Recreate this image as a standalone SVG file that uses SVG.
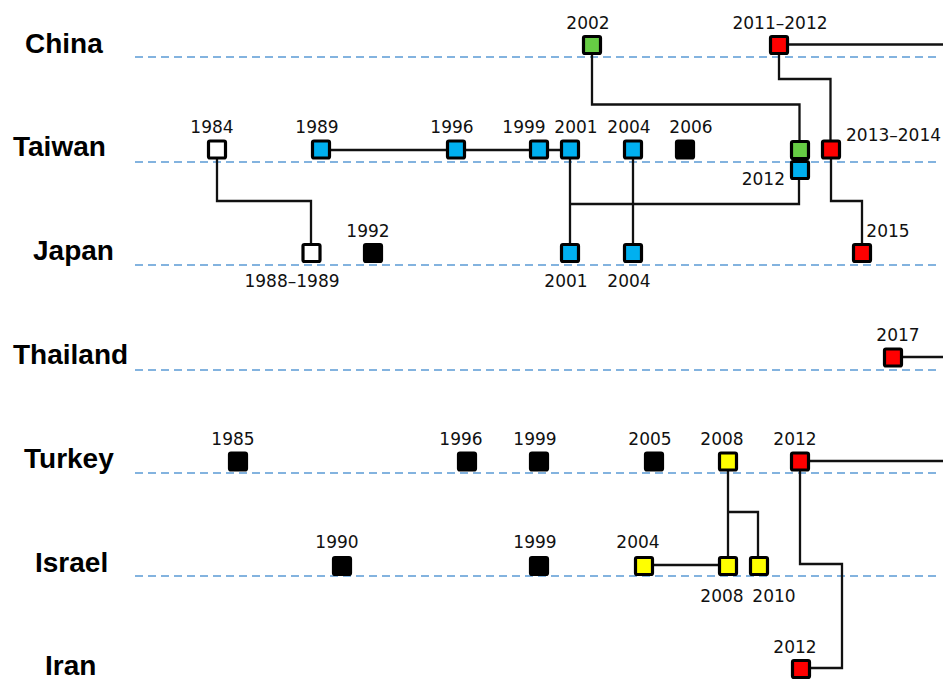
<svg xmlns="http://www.w3.org/2000/svg" width="943" height="680" viewBox="0 0 943 680">
<style>
.country{font-family:"Liberation Sans",Arial,sans-serif;font-weight:bold;font-size:28px;fill:#000}
.yr{font-family:"DejaVu Sans",Verdana,sans-serif;font-size:17px;fill:#111;text-anchor:middle}
.lane{stroke:#5B9BD5;stroke-width:1.5;stroke-dasharray:8 5;fill:none}
.conn{stroke:#111;stroke-width:2.3;fill:none}
.box{stroke:#000;stroke-width:3.2}
.blue{fill:#00B0F0}.green{fill:#66CC44}.red{fill:#FF0000}.yellow{fill:#FFFF00}.black{fill:#000}.white{fill:#FFF}
</style>
<rect width="943" height="680" fill="#fff"/>
<g id="lanes">
<line class="lane" x1="135" y1="57" x2="940" y2="57"/>
<line class="lane" x1="135" y1="162" x2="940" y2="162"/>
<line class="lane" x1="135" y1="265" x2="940" y2="265"/>
<line class="lane" x1="135" y1="370" x2="940" y2="370"/>
<line class="lane" x1="135" y1="473" x2="940" y2="473"/>
<line class="lane" x1="135" y1="576" x2="940" y2="576"/>
</g>
<g id="countries">
<text class="country" x="25" y="53">China</text>
<text class="country" x="13" y="156">Taiwan</text>
<text class="country" x="33" y="260">Japan</text>
<text class="country" x="13" y="364">Thailand</text>
<text class="country" x="24" y="468">Turkey</text>
<text class="country" x="35" y="572">Israel</text>
<text class="country" x="45" y="675">Iran</text>
</g>
<g id="connectors">
<path class="conn" d="M592 45V104.5H799.5V149"/>
<path class="conn" d="M779 45V79H830.5V149"/>
<path class="conn" d="M779 44.5H943"/>
<path class="conn" d="M831 149V201H862V253"/>
<path class="conn" d="M321 150H570"/>
<path class="conn" d="M570 149V253"/>
<path class="conn" d="M633 149V253"/>
<path class="conn" d="M570 204H799V170"/>
<path class="conn" d="M217 149V201H311V253"/>
<path class="conn" d="M893 357H943"/>
<path class="conn" d="M800 461H943"/>
<path class="conn" d="M728 461V566"/>
<path class="conn" d="M728 512H758V566"/>
<path class="conn" d="M644 565H728"/>
<path class="conn" d="M800 461V564H842V668H801"/>
</g>
<g id="china-2002"><rect class="box green" x="583.5" y="36.5" width="17" height="17" rx="1.5"/><text class="yr" x="588" y="29">2002</text></g>
<g id="china-2011"><rect class="box red" x="770.5" y="36.5" width="17" height="17" rx="1.5"/><text class="yr" x="780" y="29">2011–2012</text></g>
<g id="taiwan-1984"><rect class="box white" x="208.5" y="141" width="17" height="17" rx="1.5"/><text class="yr" x="212" y="133">1984</text></g>
<g id="taiwan-1989"><rect class="box blue" x="312.5" y="141" width="17" height="17" rx="1.5"/><text class="yr" x="317" y="133">1989</text></g>
<g id="taiwan-1996"><rect class="box blue" x="447.5" y="141" width="17" height="17" rx="1.5"/><text class="yr" x="452" y="133">1996</text></g>
<g id="taiwan-1999"><rect class="box blue" x="530.5" y="141" width="17" height="17" rx="1.5"/><text class="yr" x="524" y="133">1999</text></g>
<g id="taiwan-2001"><rect class="box blue" x="561.5" y="141" width="17" height="17" rx="1.5"/><text class="yr" x="576" y="133">2001</text></g>
<g id="taiwan-2004"><rect class="box blue" x="624.5" y="141" width="17" height="17" rx="1.5"/><text class="yr" x="629" y="133">2004</text></g>
<g id="taiwan-2006"><rect class="box black" x="676.5" y="141" width="17" height="17" rx="1.5"/><text class="yr" x="691" y="133">2006</text></g>
<g id="taiwan-2012g"><rect class="box green" x="791.5" y="141.5" width="17" height="17" rx="1.5"/></g>
<g id="taiwan-2012b"><rect class="box blue" x="791.5" y="161.5" width="17" height="17" rx="1.5"/><text class="yr" x="785" y="185" style="text-anchor:end">2012</text></g>
<g id="taiwan-2013"><rect class="box red" x="822.5" y="141" width="17" height="17" rx="1.5"/><text class="yr" x="846" y="141" style="text-anchor:start">2013–2014</text></g>
<g id="japan-1988"><rect class="box white" x="303" y="244.5" width="17" height="17" rx="1.5"/><text class="yr" x="292" y="287">1988–1989</text></g>
<g id="japan-1992"><rect class="box black" x="364.5" y="244.5" width="17" height="17" rx="1.5"/><text class="yr" x="368" y="237">1992</text></g>
<g id="japan-2001"><rect class="box blue" x="561.5" y="244.5" width="17" height="17" rx="1.5"/><text class="yr" x="566" y="287">2001</text></g>
<g id="japan-2004"><rect class="box blue" x="624.5" y="244.5" width="17" height="17" rx="1.5"/><text class="yr" x="629" y="287">2004</text></g>
<g id="japan-2015"><rect class="box red" x="853.5" y="244.5" width="17" height="17" rx="1.5"/><text class="yr" x="888" y="237">2015</text></g>
<g id="thailand-2017"><rect class="box red" x="884.5" y="349" width="17" height="17" rx="1.5"/><text class="yr" x="898" y="341">2017</text></g>
<g id="turkey-1985"><rect class="box black" x="229.5" y="453" width="17" height="17" rx="1.5"/><text class="yr" x="233" y="445">1985</text></g>
<g id="turkey-1996"><rect class="box black" x="458.5" y="453" width="17" height="17" rx="1.5"/><text class="yr" x="461" y="445">1996</text></g>
<g id="turkey-1999"><rect class="box black" x="530.5" y="453" width="17" height="17" rx="1.5"/><text class="yr" x="535" y="445">1999</text></g>
<g id="turkey-2005"><rect class="box black" x="645.5" y="453" width="17" height="17" rx="1.5"/><text class="yr" x="650" y="445">2005</text></g>
<g id="turkey-2008"><rect class="box yellow" x="719.5" y="453" width="17" height="17" rx="1.5"/><text class="yr" x="722" y="445">2008</text></g>
<g id="turkey-2012"><rect class="box red" x="791.5" y="453" width="17" height="17" rx="1.5"/><text class="yr" x="795" y="445">2012</text></g>
<g id="israel-1990"><rect class="box black" x="333.5" y="557.5" width="17" height="17" rx="1.5"/><text class="yr" x="337" y="548">1990</text></g>
<g id="israel-1999"><rect class="box black" x="530.5" y="557.5" width="17" height="17" rx="1.5"/><text class="yr" x="535" y="548">1999</text></g>
<g id="israel-2004"><rect class="box yellow" x="635.5" y="557.5" width="17" height="17" rx="1.5"/><text class="yr" x="638" y="548">2004</text></g>
<g id="israel-2008"><rect class="box yellow" x="719.5" y="557.5" width="17" height="17" rx="1.5"/><text class="yr" x="722" y="602">2008</text></g>
<g id="israel-2010"><rect class="box yellow" x="750.5" y="557.5" width="17" height="17" rx="1.5"/><text class="yr" x="774" y="602">2010</text></g>
<g id="iran-2012"><rect class="box red" x="792.5" y="660.5" width="17" height="17" rx="1.5"/><text class="yr" x="795" y="653">2012</text></g>
</svg>
